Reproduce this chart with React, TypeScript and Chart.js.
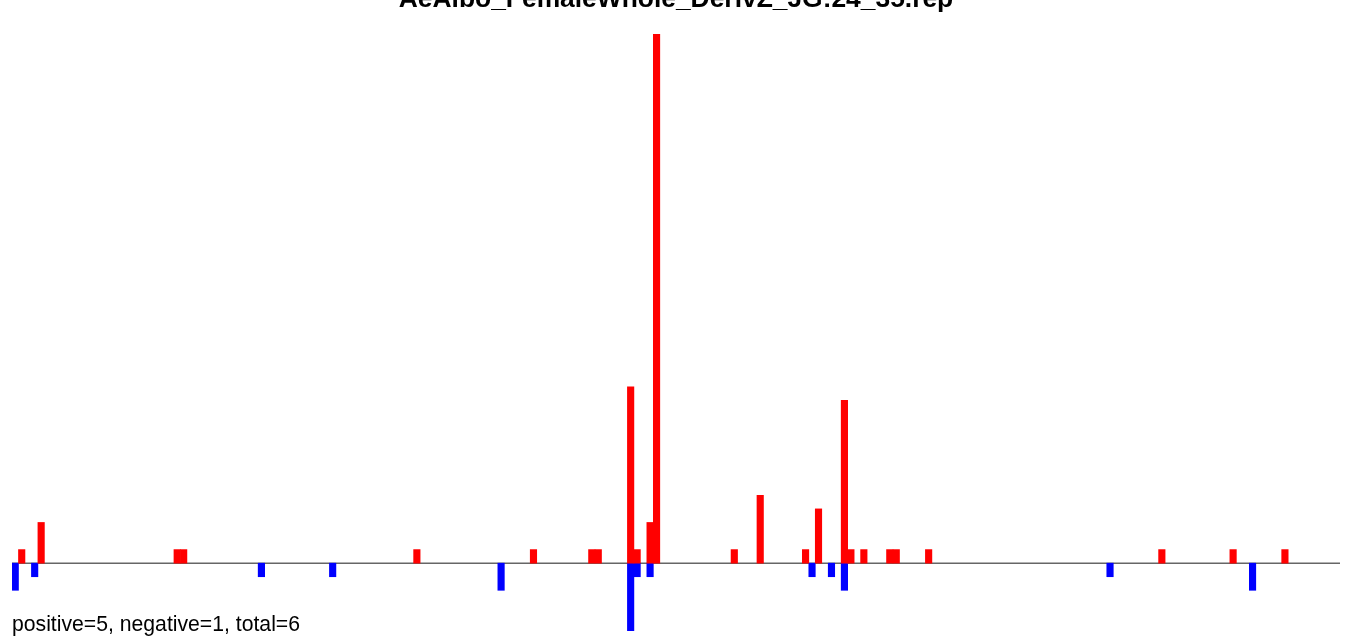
import React, { useEffect, useRef } from "react";
import { Chart, registerables } from "chart.js";

Chart.register(...registerables);

const titleText = "AeAlbo_FemaleWhole_DerivZ_JG:24_35.rep";
const footerText = "positive=5, negative=1, total=6";
const binCount = 205;

const positiveBins = [1, 4, 25, 26, 62, 80, 89, 90, 95, 96, 98, 99, 111, 115, 122, 124, 128, 129, 131, 135, 136, 141, 177, 188, 196];
const positiveValues = [1, 3, 1, 1, 1, 1, 1, 1, 13, 1, 3, 39, 1, 5, 1, 4, 12, 1, 1, 1, 1, 1, 1, 1, 1];

const negativeBins = [0, 3, 38, 49, 75, 95, 96, 98, 123, 126, 128, 169, 191];
const negativeValues = [-2, -1, -1, -1, -2, -5, -1, -1, -1, -1, -2, -1, -2];

const yMin = -5;
const yMax = 39;

function buildSeries(bins: number[], values: number[]): (number | null)[] {
  const arr: (number | null)[] = new Array(binCount).fill(null);
  bins.forEach((b, i) => {
    arr[b] = values[i];
  });
  return arr;
}

const labels = Array.from({ length: binCount }, (_, i) => String(i));

export default function App() {
  const ref = useRef<HTMLCanvasElement | null>(null);

  useEffect(() => {
    if (!ref.current) return;
    const overlay = {
      id: "overlay",
      beforeDatasetsDraw(chart: any) {
        const ctx = chart.ctx;
        const y0 = chart.scales.y.getPixelForValue(0);
        const { left, right } = chart.chartArea;
        ctx.save();
        ctx.strokeStyle = "#666666";
        ctx.lineWidth = 1.5;
        ctx.beginPath();
        ctx.moveTo(left, y0);
        ctx.lineTo(right, y0);
        ctx.stroke();
        ctx.restore();
      },
      afterDraw(chart: any) {
        const ctx = chart.ctx;
        ctx.save();
        ctx.fillStyle = "#000";
        ctx.textBaseline = "alphabetic";
        ctx.font = "bold 26.4px 'Liberation Sans', Arial, sans-serif";
        ctx.textAlign = "center";
        ctx.fillText(titleText, chart.width / 2, 7);
        ctx.font = "21.2px 'Liberation Sans', Arial, sans-serif";
        ctx.textAlign = "left";
        ctx.fillText(footerText, 12, 631);
        ctx.restore();
      },
    };

    const chart = new Chart(ref.current, {
      type: "bar",
      data: {
        labels,
        datasets: [
          {
            label: "positive",
            data: buildSeries(positiveBins, positiveValues),
            backgroundColor: "#ff0000",
            borderWidth: 0,
            barPercentage: 1,
            categoryPercentage: 1,
          },
          {
            label: "negative",
            data: buildSeries(negativeBins, negativeValues),
            backgroundColor: "#0000ff",
            borderWidth: 0,
            barPercentage: 1,
            categoryPercentage: 1,
          },
        ],
      },
      options: {
        animation: false,
        responsive: false,
        maintainAspectRatio: false,
        layout: { padding: { left: 12, right: 12, top: 34, bottom: 12 } },
        plugins: {
          legend: { display: false },
          title: { display: false },
          tooltip: { enabled: false },
        },
        scales: {
          x: { type: "category", stacked: true, display: false, offset: true },
          y: { stacked: true, display: false, min: yMin, max: yMax },
        },
      },
      plugins: [overlay],
    });
    return () => chart.destroy();
  }, []);

  return (
    <div style={{ position: "absolute", left: 0, top: 0, width: 1352, height: 643, background: "#fff" }}>
      <canvas ref={ref} width={1352} height={643} style={{ display: "block", width: 1352, height: 643 }} />
    </div>
  );
}
